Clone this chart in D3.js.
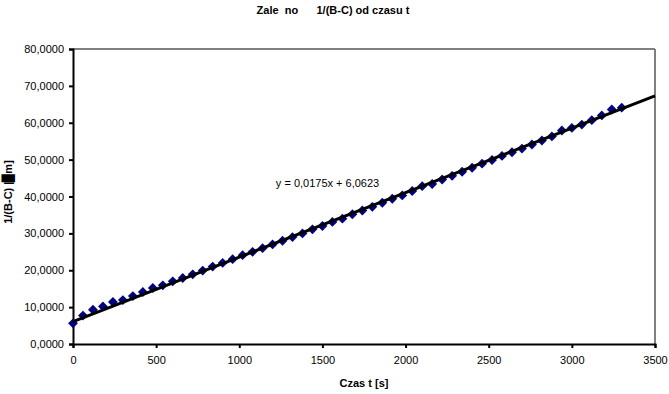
<!DOCTYPE html>
<html>
<head>
<meta charset="utf-8">
<script src="https://cdn.jsdelivr.net/npm/d3@7"></script>
<style>
  body { margin: 0; background: #fff; }
  text { font-family: "Liberation Sans", Arial, sans-serif; }
</style>
</head>
<body>
<div id="chart"></div>
<script>
// measurement times [s]
var times = [0, 60, 120, 180, 240, 300, 360, 420, 480, 540,
	600, 660, 720, 780, 840, 900, 960, 1020, 1080, 1140,
	1200, 1260, 1320, 1380, 1440, 1500, 1560, 1620, 1680, 1740,
	1800, 1860, 1920, 1980, 2040, 2100, 2160, 2220, 2280, 2340,
	2400, 2460, 2520, 2580, 2640, 2700, 2760, 2820, 2880, 2940,
	3000, 3060, 3120, 3180, 3240, 3300];

// 1/(B-C) values
var invBC = [5.6, 7.7, 9.3, 10.2, 11.4, 11.9, 13.0, 14.1, 15.2, 15.9,
	17.0, 17.9, 18.9, 19.9, 21.0, 22.0, 23.0, 24.1, 25.0, 26.0,
	27.0, 28.0, 29.0, 30.0, 31.1, 32.0, 33.1, 34.0, 35.2, 36.2,
	37.2, 38.3, 39.4, 40.3, 41.5, 42.8, 43.4, 44.6, 45.6, 46.7,
	47.8, 48.9, 49.9, 51.0, 52.0, 53.0, 54.1, 55.2, 56.3, 57.9,
	58.6, 59.5, 60.7, 62.0, 63.6, 64.1];

// linear trendline
var slope = 0.0175, intercept = 6.0623;
var trendLabel = "y = 0,0175x + 6,0623";

var xTicks = [0, 500, 1000, 1500, 2000, 2500, 3000, 3500];
var yTicks = [0, 10, 20, 30, 40, 50, 60, 70, 80];

var chartTitle = "Zale\u00a0\u00a0no\u00a0\u00a0\u00a0\u00a0\u00a0\u00a01/(B-C) od czasu t";
var xTitle = "Czas t [s]";

var width = 669, height = 394;
var margin = { top: 49, right: 14, bottom: 50, left: 73 };
var plotW = width - margin.left - margin.right,
	plotH = height - margin.top - margin.bottom;

var data = times.map(function (t, i) { return { t: t, v: invBC[i] }; });

var svg = d3.select("#chart").append("svg")
	.attr("width", width)
	.attr("height", height);

var x = d3.scaleLinear().domain([0, 3500]).range([0, plotW]);
var y = d3.scaleLinear().domain([0, 80]).range([plotH, 0]);

var g = svg.append("g")
	.attr("transform", "translate(" + margin.left + "," + margin.top + ")");

// grey frame on top and right
g.append("line")
	.attr("x1", 0).attr("x2", plotW).attr("y1", 0).attr("y2", 0)
	.attr("stroke", "#808080").attr("stroke-width", 2);
g.append("line")
	.attr("x1", plotW).attr("x2", plotW).attr("y1", 0).attr("y2", plotH)
	.attr("stroke", "#808080").attr("stroke-width", 2);

// y axis
var yAxis = g.append("g")
	.call(d3.axisLeft(y).tickValues(yTicks).tickSize(4).tickPadding(5)
		.tickFormat(function (d) { return d3.format(".4f")(d).replace(".", ","); }));

// x axis
var xAxis = g.append("g")
	.attr("transform", "translate(0," + plotH + ")")
	.call(d3.axisBottom(x).tickValues(xTicks).tickSize(4).tickPadding(8)
		.tickFormat(d3.format("d")));

[yAxis, xAxis].forEach(function (ax) {
	ax.select(".domain").attr("stroke", "#000").attr("stroke-width", 2);
	ax.selectAll(".tick line").attr("stroke", "#000").attr("stroke-width", 2);
	ax.selectAll(".tick text")
		.attr("fill", "#000")
		.style("font-size", "11px")
		.style("font-family", "'Liberation Sans', Arial, sans-serif");
});

// data points (diamonds)
g.selectAll(".dot")
	.data(data)
	.enter()
	.append("path")
	.attr("class", "dot")
	.attr("d", d3.symbol().type(d3.symbolDiamond2).size(62))
	.attr("transform", function (d) {
		return "translate(" + x(d.t) + "," + y(d.v) + ")";
	})
	.attr("fill", "#000080");

// trendline
g.append("line")
	.attr("x1", x(0)).attr("y1", y(intercept))
	.attr("x2", x(3500)).attr("y2", y(slope * 3500 + intercept))
	.attr("stroke", "#000")
	.attr("stroke-width", 3);

// equation
g.append("text")
	.attr("x", x(1220))
	.attr("y", y(42.5))
	.attr("font-size", "11px")
	.attr("fill", "#000")
	.text(trendLabel);

// title
svg.append("text")
	.attr("x", 333)
	.attr("y", 14)
	.attr("text-anchor", "middle")
	.attr("font-size", "11px")
	.attr("font-weight", "bold")
	.style("white-space", "pre")
	.text(chartTitle);

// x title
svg.append("text")
	.attr("x", margin.left + plotW / 2)
	.attr("y", 387)
	.attr("text-anchor", "middle")
	.attr("font-size", "11px")
	.attr("font-weight", "bold")
	.text(xTitle);

// y title
var yt = svg.append("text")
	.attr("transform", "translate(12,192) rotate(-90)")
	.attr("text-anchor", "middle")
	.attr("font-size", "11px")
	.attr("font-weight", "bold");
yt.append("tspan").text("1/(B-C) |");
yt.append("tspan").text("\u2589");
yt.append("tspan").text("m]");
</script>
</body>
</html>
